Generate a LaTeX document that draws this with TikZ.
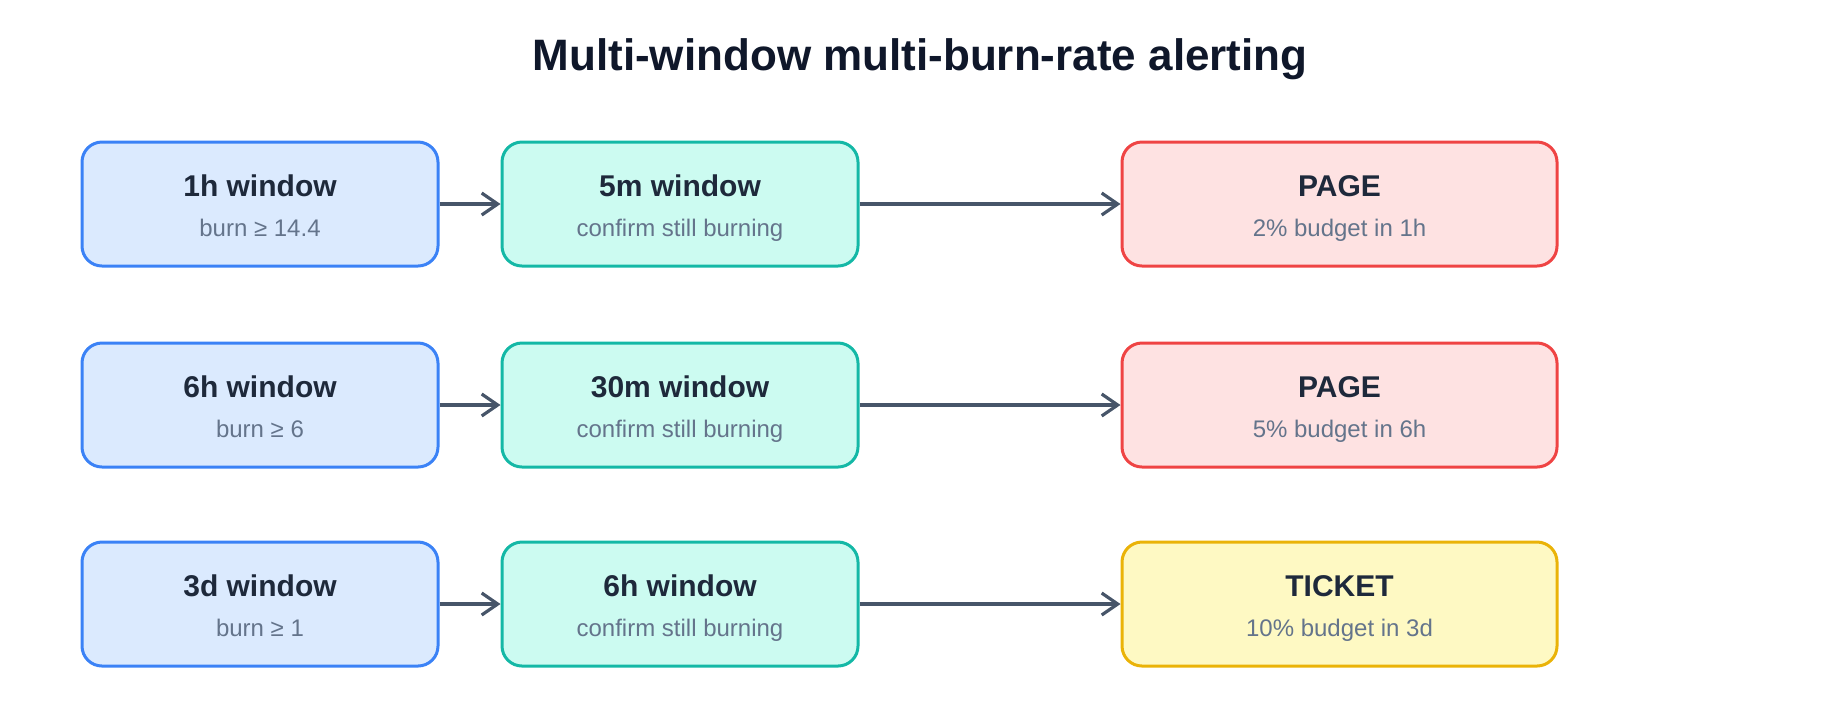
\documentclass[tikz,border=0pt]{standalone}
\usepackage{fontspec}
\setmainfont{Liberation Sans}
\usepackage{tikz}
\usetikzlibrary{arrows.meta}

\definecolor{winline}{HTML}{3B82F6}
\definecolor{winfill}{HTML}{DBEAFE}
\definecolor{confline}{HTML}{14B8A6}
\definecolor{conffill}{HTML}{CCFBF1}
\definecolor{pageline}{HTML}{EF4444}
\definecolor{pagefill}{HTML}{FEE2E2}
\definecolor{ticketline}{HTML}{EAB308}
\definecolor{ticketfill}{HTML}{FEF9C3}
\definecolor{flowgray}{HTML}{475569}
\definecolor{titleink}{HTML}{0F172A}
\definecolor{headink}{HTML}{1E293B}
\definecolor{noteink}{HTML}{64748B}

\begin{document}
\begin{tikzpicture}[
    x=0.5pt, y=-0.5pt,
    box/.style={draw, rounded corners=10pt, line width=1.5pt, minimum height=62pt, inner sep=0pt},
    window/.style={box, draw=winline, fill=winfill, minimum width=178pt},
    confirm/.style={box, draw=confline, fill=conffill, minimum width=178pt},
    page/.style={box, draw=pageline, fill=pagefill, minimum width=217.5pt},
    ticket/.style={box, draw=ticketline, fill=ticketfill, minimum width=217.5pt},
    boxtitle/.style={anchor=base, font=\fontsize{15}{18}\selectfont\bfseries, text=headink},
    boxnote/.style={anchor=base, font=\fontsize{12}{14}\selectfont, text=noteink},
    flow/.style={draw=flowgray, line width=1.6pt, -{Straight Barb[length=8pt,width=11pt]}}
]
\useasboundingbox (0,0) rectangle (1840,720);

% Title
\node[anchor=base, font=\fontsize{22}{26}\selectfont\bfseries, text=titleink] (title) at (920,70) {Multi-window multi-burn-rate alerting};

% Row 1
\node[window] (long1) at (260,204) {};
\node[confirm] (short1) at (680,204) {};
\node[page] (act1) at (1339.5,204) {};
\node[boxtitle] at ([yshift=3.6pt]long1.center) {1h window};
\node[boxnote] at ([yshift=-16pt]long1.center) {burn ≥ 14.4};
\node[boxtitle] at ([yshift=3.6pt]short1.center) {5m window};
\node[boxnote] at ([yshift=-16pt]short1.center) {confirm still burning};
\node[boxtitle] at ([yshift=3.6pt]act1.center) {PAGE};
\node[boxnote] at ([yshift=-16pt]act1.center) {2\% budget in 1h};

% Row 2
\node[window] (long2) at (260,405) {};
\node[confirm] (short2) at (680,405) {};
\node[page] (act2) at (1339.5,405) {};
\node[boxtitle] at ([yshift=3.6pt]long2.center) {6h window};
\node[boxnote] at ([yshift=-16pt]long2.center) {burn ≥ 6};
\node[boxtitle] at ([yshift=3.6pt]short2.center) {30m window};
\node[boxnote] at ([yshift=-16pt]short2.center) {confirm still burning};
\node[boxtitle] at ([yshift=3.6pt]act2.center) {PAGE};
\node[boxnote] at ([yshift=-16pt]act2.center) {5\% budget in 6h};

% Row 3
\node[window] (long3) at (260,604) {};
\node[confirm] (short3) at (680,604) {};
\node[ticket] (act3) at (1339.5,604) {};
\node[boxtitle] at ([yshift=3.6pt]long3.center) {3d window};
\node[boxnote] at ([yshift=-16pt]long3.center) {burn ≥ 1};
\node[boxtitle] at ([yshift=3.6pt]short3.center) {6h window};
\node[boxnote] at ([yshift=-16pt]short3.center) {confirm still burning};
\node[boxtitle] at ([yshift=3.6pt]act3.center) {TICKET};
\node[boxnote] at ([yshift=-16pt]act3.center) {10\% budget in 3d};

% Arrows
\path[flow] (long1) -- (short1);
\path[flow] (short1) -- (act1);
\path[flow] (long2) -- (short2);
\path[flow] (short2) -- (act2);
\path[flow] (long3) -- (short3);
\path[flow] (short3) -- (act3);

\end{tikzpicture}
\end{document}
